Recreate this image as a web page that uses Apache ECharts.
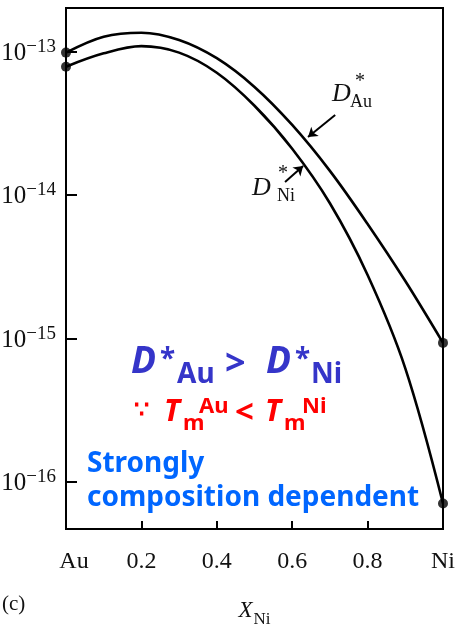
<!DOCTYPE html>
<html>
<head>
<meta charset="utf-8">
<script src="https://cdn.jsdelivr.net/npm/echarts@6/dist/echarts.min.js"></script>
<style>html,body{margin:0;padding:0;background:#fff}#c{width:461px;height:628px}</style>
</head>
<body>
<div id="c"></div>
<script>
// X_Ni composition
var xNi = [0, 0.1, 0.2, 0.3, 0.4, 0.5, 0.6, 0.7, 0.8, 0.9, 1.0];
// log10 of D*_Au and D*_Ni
var logDAu = [-13.008, -12.897, -12.869, -12.920, -13.047, -13.247, -13.512, -13.832, -14.202, -14.600, -15.031];
var logDNi = [-13.106, -13.013, -12.963, -13.008, -13.148, -13.378, -13.678, -14.058, -14.558, -15.208, -16.150];
var yTicks = [-16, -15, -14, -13];
var xTickLabels = {0: 'Au', 1: 'Ni'};

var serif = "'Liberation Serif', 'DejaVu Serif', serif";
var sans = "'Noto Sans', 'Liberation Sans', Arial, sans-serif";

function pairs(xs, ys) { return xs.map(function (x, i) { return [x, ys[i]]; }); }
var ends = [[xNi[0], logDAu[0]], [xNi[xNi.length-1], logDAu[logDAu.length-1]],
            [xNi[0], logDNi[0]], [xNi[xNi.length-1], logDNi[logDNi.length-1]]];

var chart = echarts.init(document.getElementById('c'));
var blue = '#3535c9', red = '#ff0000', bright = '#0066ff', ink = '#111';
function t(x, y, text, size, color, style, weight, family) {
  return { type: 'text', x: x, y: y, z: 100, style: { text: text, fontSize: size, fill: color,
    fontStyle: style || 'normal', fontWeight: weight || 'bold', fontFamily: family || sans, verticalAlign: 'middle', align: 'left' } };
}
chart.setOption({
  animation: false,
  grid: { left: 66, right: 18, top: 8, bottom: 99, show: true, borderColor: '#000', borderWidth: 2,
          outerBoundsMode: 'none', containLabel: false },
  xAxis: {
    type: 'value', min: 0, max: 1, interval: 0.2,
    axisLine: { lineStyle: { color: '#000', width: 2 } },
    axisTick: { inside: true, length: 8, lineStyle: { color: '#000', width: 2 } },
    splitLine: { show: false },
    axisLabel: {
      margin: 21, color: ink, fontFamily: serif, fontSize: 24,
      formatter: function (v) {
        if (xTickLabels[v] === 'Au') return '{au|Au}';
        if (xTickLabels[v]) return xTickLabels[v];
        return v.toFixed(1);
      },
      rich: { au: { fontFamily: serif, fontSize: 24, color: ink, padding: [0, 0, 0, 16] } }
    },
    name: '{i|X}{s|Ni}', nameLocation: 'middle', nameGap: 70,
    nameTextStyle: { rich: {
      i: { fontFamily: serif, fontStyle: 'italic', fontSize: 23, color: ink, verticalAlign: 'bottom', padding: [0, 1, 6, 0] },
      s: { fontFamily: serif, fontSize: 17, color: ink, verticalAlign: 'bottom' } } }
  },
  yAxis: {
    type: 'value', min: -16.328, max: -12.697,
    axisLine: { lineStyle: { color: '#000', width: 2 } },
    axisTick: { inside: true, length: 11, customValues: yTicks, lineStyle: { color: '#000', width: 2 } },
    splitLine: { show: false },
    axisLabel: {
      margin: 10, customValues: yTicks,
      formatter: function (v) { return '{b|10}{s|\u2212' + Math.abs(Math.round(v)) + '}'; },
      rich: {
        b: { fontFamily: serif, fontSize: 25, color: ink, verticalAlign: 'bottom' },
        s: { fontFamily: serif, fontSize: 19, color: ink, verticalAlign: 'bottom', padding: [0, 0, 9, 0] }
      }
    }
  },
  series: [
    { type: 'line', data: pairs(xNi, logDAu), smooth: 0.35, symbol: 'none', clip: false,
      lineStyle: { color: '#000', width: 2.6 },
      markLine: { silent: true, symbol: ['none', 'arrow'], symbolSize: 9, label: { show: false },
        lineStyle: { color: '#000', width: 2, type: 'solid' },
        data: [[{ coord: [0.714, -13.443] }, { coord: [0.642, -13.596] }]] } },
    { type: 'line', data: pairs(xNi, logDNi), smooth: 0.35, symbol: 'none', clip: false,
      lineStyle: { color: '#000', width: 2.6 },
      markLine: { silent: true, symbol: ['none', 'arrow'], symbolSize: 9, label: { show: false },
        lineStyle: { color: '#000', width: 2, type: 'solid' },
        data: [[{ coord: [0.581, -13.909] }, { coord: [0.629, -13.798] }]] } },
    { type: 'scatter', data: ends, symbolSize: 10, clip: false, itemStyle: { color: '#000' }, z: 5 }
  ],
  graphic: [
    t(332, 94, 'D', 26, ink, 'italic', 'normal', serif),
    t(355, 82, '*', 20, ink, 'normal', 'normal', serif),
    t(350, 102, 'Au', 18, ink, 'normal', 'normal', serif),
    t(252, 188, 'D', 26, ink, 'italic', 'normal', serif),
    t(278, 174, '*', 20, ink, 'normal', 'normal', serif),
    t(277, 196, 'Ni', 18, ink, 'normal', 'normal', serif),
    t(2, 604, '(c)', 21, ink, 'normal', 'normal', serif),

    t(131, 362, 'D', 37, blue, 'italic'),
    t(160, 360, '*', 28, blue),
    t(177, 375, 'Au', 28, blue),
    t(225, 365, '>', 36, blue),
    t(266, 362, 'D', 37, blue, 'italic'),
    t(295, 360, '*', 28, blue),
    t(311, 375, 'Ni', 28, blue),

    t(134, 411, '\u2235', 24, red),
    t(164, 412, 'T', 30, red, 'italic'),
    t(183, 424, 'm', 22, red),
    t(199, 407, 'Au', 22, red),
    t(235, 414, '<', 33, red),
    t(265, 412, 'T', 30, red, 'italic'),
    t(284, 424, 'm', 22, red),
    t(302, 407, 'Ni', 22, red),

    t(87, 464, 'Strongly', 28, bright),
    t(87, 498, 'composition dependent', 28, bright)
  ]
});
</script>
</body>
</html>
